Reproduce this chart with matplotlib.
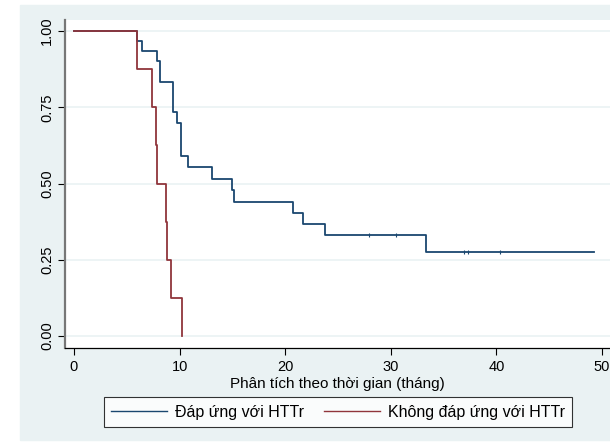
import numpy as np
import matplotlib.pyplot as plt

plt.rcParams['font.family'] = ['Liberation Sans', 'DejaVu Sans']

# Kaplan-Meier estimates
t_dap = [0, 5.97, 6.41, 7.83, 8.14, 9.38, 9.8, 10.1, 10.77, 13.1, 15.0, 15.18,
         20.7, 21.7, 23.8, 33.3, 49.2]
s_dap = [1.0, 0.967, 0.933, 0.90, 0.833, 0.733, 0.70, 0.59, 0.553, 0.515, 0.478,
         0.44, 0.405, 0.367, 0.33, 0.276, 0.276]
cens_t = [27.9, 30.5, 36.9, 37.3, 40.3]
cens_s = [0.33, 0.33, 0.276, 0.276, 0.276]

t_khong = [0, 6.0, 7.35, 7.8, 7.9, 8.7, 8.85, 9.15, 10.2]
s_khong = [1.0, 0.875, 0.75, 0.625, 0.5, 0.375, 0.25, 0.125, 0.0]

xticks = [0, 10, 20, 30, 40, 50]
yticks = [0.0, 0.25, 0.5, 0.75, 1.0]
ylabels = ['0.00', '0.25', '0.50', '0.75', '1.00']

bg = '#eaf2f3'
navy = '#1a476f'
maroon = '#90353b'

fig = plt.figure(figsize=(6.1, 4.43), dpi=100)
# stata-like light background panel
fig.patches.append(plt.Rectangle((20/610, 3/443), 590/610, 435/443,
                                 transform=fig.transFigure, color=bg, zorder=-1))
ax = fig.add_axes([65/610, 95/443, 545/610, 328/443])
ax.set_facecolor('white')

for y in yticks:
    ax.axhline(y, color=bg, lw=1.2, zorder=1)

ax.step(t_dap, s_dap, where='post', color=navy, lw=1.3, zorder=3)
ax.plot(cens_t, cens_s, ls='none', marker='|', ms=2.5, mew=0.8, color=navy, zorder=3)
ax.step(t_khong, s_khong, where='post', color=maroon, lw=1.3, zorder=3)

ax.set_xlim(-0.85, 50.76)
ax.set_ylim(-0.039, 1.036)
ax.set_xticks(xticks)
ax.set_yticks(yticks)
ax.set_yticklabels(ylabels, rotation=90, va='center')
ax.tick_params(axis='both', labelsize=10.5, length=5, width=0.8, direction='out')
ax.tick_params(axis='y', pad=3)

for side in ['top', 'right']:
    ax.spines[side].set_visible(False)
ax.spines['left'].set_color('#777777')
ax.spines['left'].set_linewidth(1.6)
ax.spines['bottom'].set_color('black')
ax.spines['bottom'].set_linewidth(0.9)

ax.set_xlabel('Phân tích theo thời gian (tháng)', fontsize=11, labelpad=2)

h1, = ax.plot([], [], color=navy, lw=1)
h2, = ax.plot([], [], color=maroon, lw=1)
leg = fig.legend([h1, h2], ['Đáp ứng với HTTr', 'Không đáp ứng với HTTr'],
                 loc='center', bbox_to_anchor=(338/610, 1 - 412/443), ncol=2,
                 fontsize=11.5, frameon=True, fancybox=False, edgecolor='black',
                 handlelength=3.5, columnspacing=1.3, borderpad=0.45,
                 handletextpad=0.5)
leg.get_frame().set_linewidth(0.8)
leg.get_frame().set_facecolor('white')

fig.savefig('out.png', dpi=100)
